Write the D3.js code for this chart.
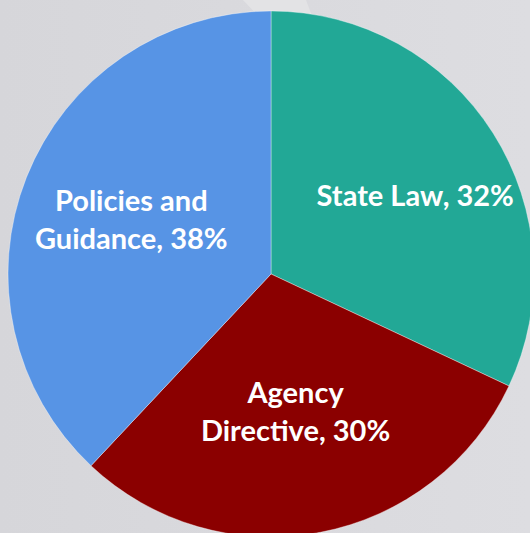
<!DOCTYPE html>
<html>
<head>
<meta charset="utf-8">
<script src="https://cdn.jsdelivr.net/npm/d3@7"></script>
<style>
  body { margin: 0; background: #d8d8dc; overflow: hidden; }
  .label-text { font-family: Lato, "Open Sans", sans-serif; font-weight: bold; fill: #ffffff; }
</style>
</head>
<body>
<script>
var width = 530, height = 533;

// chart data
var categories = ["State Law", "Agency Directive", "Policies and Guidance"];
var shares = [32, 30, 38];
var colors = ["#22a896", "#8b0000", "#5794e5"];
// label lines as shown on the slices
var labelLines = [["State Law, 32%"], ["Agency", "Directive, 30%"], ["Policies and", "Guidance, 38%"]];

var cx = 271, cy = 274, radius = 263;

var svg = d3.select("body").append("svg")
    .attr("width", width)
    .attr("height", height);

// background, with the light patch behind the top of the pie
var bg = svg.append("defs").append("linearGradient")
    .attr("id", "bg")
    .attr("x1", 0).attr("x2", 1).attr("y1", 0).attr("y2", 0);
bg.append("stop").attr("offset", 0).attr("stop-color", "#d6d6da");
bg.append("stop").attr("offset", 1).attr("stop-color", "#dddde1");
svg.append("rect")
    .attr("width", width)
    .attr("height", height)
    .attr("fill", "url(#bg)");
svg.append("path")
    .attr("d", "M243,0 L306,0 L312,16 L258,16 Z")
    .attr("fill", "#e3e3e5");

var pie = d3.pie()
    .sort(null)
    .value(function(d) { return d; });

var arc = d3.arc()
    .innerRadius(0)
    .outerRadius(radius);

var labelArc = d3.arc()
    .innerRadius(radius * 0.6)
    .outerRadius(radius * 0.6);

var g = svg.append("g")
    .attr("transform", "translate(" + cx + "," + cy + ")");

var slices = pie(shares);

g.selectAll(".slice")
    .data(slices)
    .enter()
    .append("path")
    .attr("class", "slice")
    .attr("d", arc)
    .attr("fill", function(d, i) { return colors[i]; })
    .attr("stroke", "rgba(255,255,255,0.45)")
    .attr("stroke-width", 0.8);

// small nudges so labels sit where the original put them
var nudge = [[11, 8], [-5, -16], [7, 5]];
var lineHeight = 38;

var labels = g.selectAll(".label")
    .data(slices)
    .enter()
    .append("text")
    .attr("class", "label-text")
    .attr("text-anchor", "middle")
    .style("font-size", "29px")
    .attr("transform", function(d, i) {
        var c = labelArc.centroid(d);
        return "translate(" + (c[0] + nudge[i][0]) + "," + (c[1] + nudge[i][1]) + ")";
    });

labels.each(function(d, i) {
    var lines = labelLines[i];
    var t = d3.select(this);
    lines.forEach(function(line, j) {
        t.append("tspan")
            .attr("x", 0)
            .attr("y", (j - (lines.length - 1) / 2) * lineHeight + 9)
            .text(line);
    });
});
</script>
</body>
</html>
